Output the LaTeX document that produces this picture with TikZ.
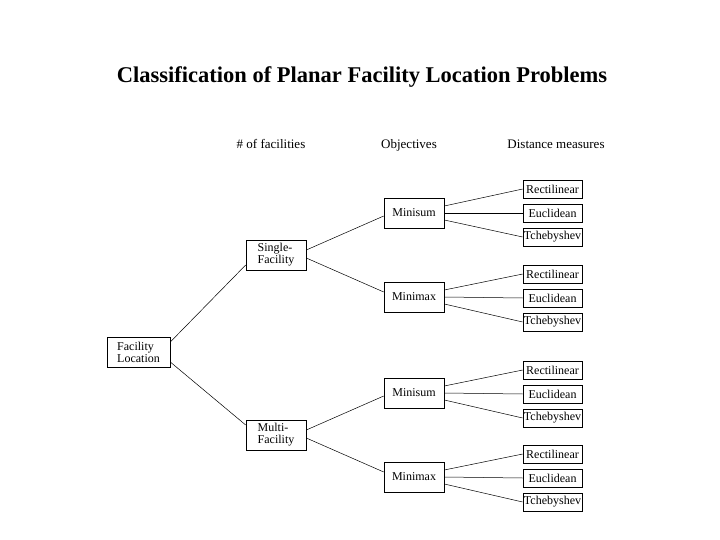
\documentclass[tikz,border=0pt]{standalone}
\usepackage{fontspec}
\setmainfont{Liberation Serif}
\begin{document}
\begin{tikzpicture}[x=1pt,y=-1pt,
  box/.style={draw,line width=0.6pt,inner sep=1pt,align=left,font=\fontsize{12}{12}\selectfont},
  lab/.style={font=\fontsize{13}{13}\selectfont,anchor=base},
  ln/.style={line width=0.5pt}]
\useasboundingbox (0,0) rectangle (720,540);
\node[font=\bfseries\fontsize{22.5}{22.5}\selectfont] (title) at (362,77) {Classification of Planar Facility Location Problems};
\node[lab] (h1) at (271,149) {\# of facilities};
\node[lab] (h2) at (409,149) {Objectives};
\node[lab] (h3) at (556,149) {Distance measures};
\node[box,minimum width=63pt,minimum height=30pt] (fl) at (138.5,352) {Facility\\Location};
\node[box,minimum width=60pt,minimum height=30pt] (sf) at (276,255) {Single-\\Facility};
\node[box,minimum width=60pt,minimum height=30pt] (mf) at (276,435) {Multi-\\Facility};
\foreach \n/\t/\y/\r in {a/Minisum/213/189, b/Minimax/297/274, c/Minisum/393/370, d/Minimax/477/454}{
  \node[box,minimum width=60pt,minimum height=30pt] (\n) at (414,\y) {\t};
  \node[box,minimum width=59pt,minimum height=18pt] (\n1) at (552.5,\r) {Rectilinear};
  \node[box,minimum width=59pt,minimum height=18pt] (\n2) at (552.5,\r+24) {Euclidean};
  \node[box,minimum width=59pt,minimum height=18pt] (\n3) at (552.5,\r+48) {Tchebyshev};
  \draw[ln] ([yshift=7pt]\n.east) -- (\n1.west);
  \draw[ln] (\n.east) -- (\n2.west);
  \draw[ln] ([yshift=-7pt]\n.east) -- (\n3.west);
}
\draw[ln] ([yshift=5pt]sf.east) -- ([yshift=-3pt]a.west);
\draw[ln] ([yshift=-3pt]sf.east) -- ([yshift=5pt]b.west);
\draw[ln] ([yshift=5pt]mf.east) -- ([yshift=-3pt]c.west);
\draw[ln] ([yshift=-3pt]mf.east) -- ([yshift=5pt]d.west);
\draw[ln] ([yshift=10pt]fl.east) -- ([yshift=-10pt]sf.west);
\draw[ln] ([yshift=-10pt]fl.east) -- ([yshift=10pt]mf.west);
\end{tikzpicture}
\end{document}
